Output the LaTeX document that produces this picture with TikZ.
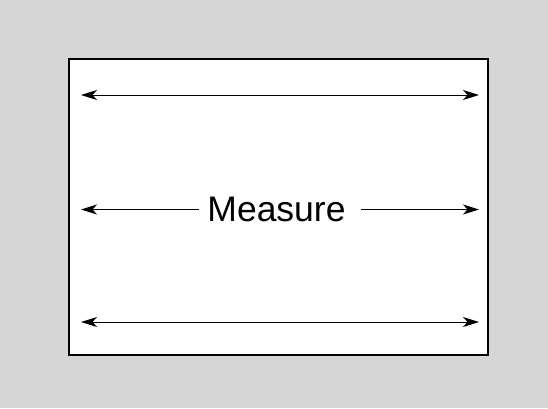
\documentclass[tikz,border=0pt]{standalone}
\usepackage{fontspec}
\setmainfont{Liberation Sans}
\usetikzlibrary{arrows.meta}
\definecolor{bggray}{HTML}{D6D6D6}
\begin{document}
\begin{tikzpicture}[x=1pt,y=-1pt,
  frame/.style={draw=black,fill=white,line width=2pt},
  dim/.style={line width=1pt,{Stealth[length=16pt,width=10pt,inset=4.5pt]}-{Stealth[length=16pt,width=10pt,inset=4.5pt]}},
  halfdim/.style={line width=1pt,-{Stealth[length=16pt,width=10pt,inset=4.5pt]}},
  label/.style={font=\fontsize{35.5}{42}\selectfont,inner sep=0pt}]
\fill[bggray] (0,0) rectangle (548,408);
\useasboundingbox (0,0) rectangle (548,408);
\node[frame,minimum width=419pt,minimum height=296pt,inner sep=0pt] (box) at (278.5,207) {};
\coordinate (t1) at (81,95);
\coordinate (t2) at (479,95);
\coordinate (b1) at (81,322);
\coordinate (b2) at (479,322);
\coordinate (m1) at (81,209.5);
\coordinate (m2) at (479,209.5);
\node[label] (m) at (276.5,209.5) {Measure};
\draw[dim] (t1) -- (t2);
\draw[dim] (b1) -- (b2);
\draw[halfdim] ([xshift=-8pt]m.west |- m1) -- (m1);
\draw[halfdim] ([xshift=15pt]m.east |- m2) -- (m2);
\end{tikzpicture}
\end{document}
